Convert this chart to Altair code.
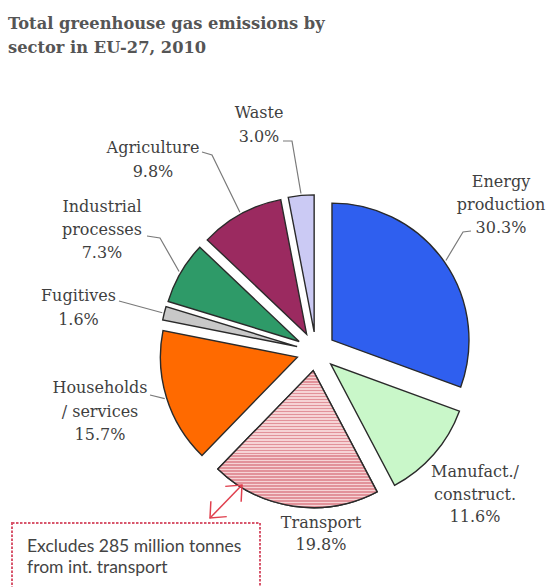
import math
import altair as alt
import pandas as pd

# ---------------- data ----------------
sectors = ["Energy production", "Manufact./ construct.", "Transport",
           "Households / services", "Fugitives", "Industrial processes",
           "Agriculture", "Waste"]
values = [30.3, 11.6, 19.8, 15.7, 1.6, 7.3, 9.8, 3.0]
label_lines = [["Energy", "production"], ["Manufact./", "construct."], ["Transport"],
               ["Households", "/ services"], ["Fugitives"], ["Industrial", "processes"],
               ["Agriculture"], ["Waste"]]
title_lines = ["Total greenhouse gas emissions by", "sector in EU-27, 2010"]
note_lines = ["Excludes 285 million tonnes", "from int. transport"]

# ---------------- style / layout ----------------
colors = ["#2f5fef", "#c9f7c9", "#f3c9cb", "#ff6a00", "#c8c8c8", "#2e9a68", "#9b2a60", "#cbcaf4"]
W, H = 553, 587
CX, CY = 316, 351.3      # pie centre (canvas px)
R = 137                  # pie radius
EXPLODE = 19.5           # slice explosion distance
label_pos = [(501, 182), (475, 472), (321, 523), (100, 388), (78.5, 296), (102, 207), (153, 148), (259, 113)]
line_h = [23, 22.5, 22, 23.5, 24, 23, 24, 24]
leader_via = [[(471, 231), (463, 232)], None, None, [(150, 395)], [(119, 301)],
              [(147, 236), (160, 238)], [(202, 152), (212, 155)], [(283, 141), (292, 141)]]
arrow_ends = [(242, 485), (210, 518)]
note_box = (12, 523, 260, 600)

total = sum(values)
rows, cum = [], 0.0
for i, (s, v) in enumerate(zip(sectors, values)):
    start, end = cum, cum + v
    cum = end
    a = (start + end) / 2 / total * 2 * math.pi
    cx = CX + EXPLODE * math.sin(a)
    cy = CY - EXPLODE * math.cos(a)
    rows.append(dict(sector=s, value=v, start=start, end=end, cx=cx, cy=cy, ang=a, order=i))
pie_df = pd.DataFrame(rows)

# labels
lab_rows = []
for i, r in enumerate(rows):
    lines = label_lines[i] + [f"{values[i]:.1f}%"]
    x0, y0 = label_pos[i]
    for k, t in enumerate(lines):
        lab_rows.append(dict(text=t, x=x0, y=y0 + k * line_h[i]))
lab_df = pd.DataFrame(lab_rows)

# leader lines (end on slice edge at mid angle)
lead_rows = []
for i, r in enumerate(rows):
    if not leader_via[i]:
        continue
    pts = list(leader_via[i])
    pts.append((r["cx"] + (R + 2) * math.sin(r["ang"]), r["cy"] - (R + 2) * math.cos(r["ang"])))
    for k, (x, y) in enumerate(pts):
        lead_rows.append(dict(id=i, seq=k, x=x, y=y))
lead_df = pd.DataFrame(lead_rows)

title_df = pd.DataFrame([dict(text=t, x=8, y=29 + 24 * k) for k, t in enumerate(title_lines)])
note_df = pd.DataFrame([dict(text=t, x=27, y=547 + 21 * k) for k, t in enumerate(note_lines)])
box_df = pd.DataFrame([dict(x=note_box[0], y=note_box[1], x2=note_box[2], y2=note_box[3])])
arrow_df = pd.DataFrame([dict(x=arrow_ends[0][0], y=arrow_ends[0][1], x2=arrow_ends[1][0], y2=arrow_ends[1][1])])
dxa = arrow_ends[0][0] - arrow_ends[1][0]
dya = arrow_ends[0][1] - arrow_ends[1][1]
ang_up = math.degrees(math.atan2(dxa, -dya)) % 360
head_df = pd.DataFrame([dict(x=arrow_ends[0][0], y=arrow_ends[0][1], a=ang_up),
                        dict(x=arrow_ends[1][0], y=arrow_ends[1][1], a=(ang_up + 180) % 360)])

xs = alt.Scale(domain=[0, W], nice=False, zero=False)
ys = alt.Scale(domain=[0, H], nice=False, zero=False, reverse=True)
X = lambda f: alt.X(f, scale=xs, axis=None)
Y = lambda f: alt.Y(f, scale=ys, axis=None)

theta_scale = alt.Scale(domain=[0, total], range=[0, 2 * math.pi])

arcs = alt.Chart(pie_df).mark_arc(outerRadius=R, stroke="#2a2a2a", strokeWidth=1.4).encode(
    theta=alt.Theta("start:Q", scale=theta_scale),
    theta2="end:Q",
    x=X("cx:Q"), y=Y("cy:Q"),
    fill=alt.Fill("sector:N", scale=alt.Scale(domain=sectors, range=colors), legend=None),
)

# striped fill for transport
N = 46
stops = []
for k in range(N):
    a0, a1, a2 = k / N, (k + 0.5) / N, (k + 1) / N
    stops += [dict(offset=a0, color="#f6d3d5"), dict(offset=a1, color="#f6d3d5"),
              dict(offset=a1, color="#e2929a"), dict(offset=a2, color="#e2929a")]
stripe = {"gradient": "linear", "x1": 0, "y1": 0, "x2": 0, "y2": 1, "stops": stops}
transport = alt.Chart(pie_df).transform_filter(alt.datum.sector == "Transport").mark_arc(
    outerRadius=R, stroke="#2a2a2a", strokeWidth=1.4, fill=stripe).encode(
    theta=alt.Theta("start:Q", scale=theta_scale),
    theta2="end:Q",
    x=X("cx:Q"), y=Y("cy:Q"),
)

leaders = alt.Chart(lead_df).mark_line(color="#7a7a7a", strokeWidth=1.2).encode(
    x=X("x:Q"), y=Y("y:Q"), detail="id:N", order="seq:Q")

labels = alt.Chart(lab_df).mark_text(font="DejaVu Serif", fontSize=16, color="#3f3f3f",
                                     align="center", baseline="middle").encode(
    x=X("x:Q"), y=Y("y:Q"), text="text:N")

title = alt.Chart(title_df).mark_text(font="DejaVu Serif", fontSize=16.3, fontWeight="bold",
                                      color="#555555", align="left", baseline="alphabetic").encode(
    x=X("x:Q"), y=Y("y:Q"), text="text:N")

box = alt.Chart(box_df).mark_rect(fill="white", stroke="#d8566c", strokeWidth=2,
                                  strokeDash=[2.5, 1.5]).encode(
    x=X("x:Q"), x2="x2:Q", y=Y("y:Q"), y2="y2:Q")

note = alt.Chart(note_df).mark_text(font="Lato", fontSize=17.5, color="#444444",
                                    align="left", baseline="middle").encode(
    x=X("x:Q"), y=Y("y:Q"), text="text:N")

arrow = alt.Chart(arrow_df).mark_rule(color="#e0404e", strokeWidth=1.5).encode(
    x=X("x:Q"), x2="x2:Q", y=Y("y:Q"), y2="y2:Q")
heads = alt.Chart(head_df).mark_point(shape="M -0.7 0.8 L 0 0 L 0.7 0.8", filled=False,
                                      color="#e0404e", size=1000, strokeWidth=1.5, opacity=1).encode(
    x=X("x:Q"), y=Y("y:Q"), angle=alt.Angle("a:Q", scale=None))

chart = alt.layer(arcs, transport, leaders, labels, title, box, note, arrow, heads).properties(
    width=W, height=H, padding=0, autosize="none", background="white"
).configure_view(stroke=None)

chart.save("out.html", embed_options={"renderer": "svg", "actions": False})
